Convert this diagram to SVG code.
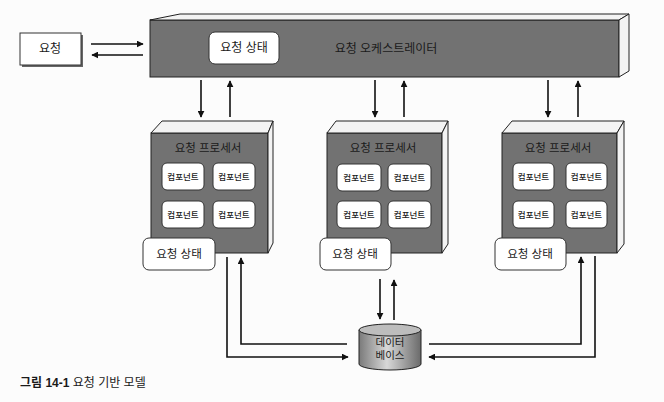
<svg xmlns="http://www.w3.org/2000/svg" width="664" height="402" viewBox="0 0 664 402">
<style>
text{font-family:"Liberation Sans","Noto Sans CJK KR",sans-serif;fill:#1a1a1a;text-anchor:middle;dominant-baseline:central}
.face{fill:#727272;stroke:#222;stroke-width:1}
.lite{fill:#f3f3f3;stroke:#222;stroke-width:1}
.box{fill:#fff;stroke:#333;stroke-width:1}
.comp{font-size:8.5px;font-weight:500}
.st{font-size:11.5px}
.ttl{font-size:11.5px}
.ln{fill:none;stroke:#111;stroke-width:1.6}
</style>
<defs>
<marker id="ah" viewBox="0 0 10 10" refX="9" refY="5" markerWidth="7" markerHeight="7" markerUnits="userSpaceOnUse" orient="auto">
<path d="M0,0 L10,5 L0,10 z" fill="#111"/>
</marker>
<linearGradient id="cyl" x1="0" y1="0" x2="1" y2="0">
<stop offset="0" stop-color="#7a7a7a"/>
<stop offset="0.45" stop-color="#d8d8d8"/>
<stop offset="1" stop-color="#6a6a6a"/>
</linearGradient>
</defs>
<rect width="664" height="402" fill="#fcfcfc"/>

<g id="request">
<rect x="22" y="35" width="61" height="32" fill="#666"/>
<rect x="20" y="33" width="61" height="32" class="box"/>
<text x="50" y="49" font-size="12">요청</text>
</g>

<g id="orchestrator">
<rect x="150" y="20" width="469" height="57" class="face"/>
<polygon points="150,20 180,14 629,14 619,20" class="lite"/>
<polygon points="619,20 629,14 629,71 619,77" class="lite"/>
<rect x="209" y="32" width="70" height="32" rx="6" class="box"/>
<text x="244" y="48" font-size="12">요청 상태</text>
<text x="386" y="49" font-size="12">요청 오케스트레이터</text>
</g>

<g id="processor1">
<rect x="151" y="133" width="117" height="120" class="face"/>
<polygon points="151,133 162,121 273,121 268,133" class="lite"/>
<polygon points="268,133 273,121 273,243 268,253" class="lite"/>
<text x="208" y="148" class="ttl">요청 프로세서</text>
<rect x="162" y="163" width="42" height="27" rx="5" class="box"/><text x="183" y="176.5" class="comp">컴포넌트</text>
<rect x="213" y="163" width="42" height="27" rx="5" class="box"/><text x="234" y="176.5" class="comp">컴포넌트</text>
<rect x="162" y="201" width="42" height="27" rx="5" class="box"/><text x="183" y="214.5" class="comp">컴포넌트</text>
<rect x="213" y="201" width="42" height="27" rx="5" class="box"/><text x="234" y="214.5" class="comp">컴포넌트</text>
<rect x="143" y="238" width="72" height="32" rx="6" class="box"/>
<text x="179" y="254" class="st">요청 상태</text>
</g>

<g id="processor2">
<rect x="327" y="133" width="115" height="120" class="face"/>
<polygon points="327,133 336,121 448,121 442,133" class="lite"/>
<polygon points="442,133 448,121 448,244 442,253" class="lite"/>
<text x="383" y="148" class="ttl">요청 프로세서</text>
<rect x="337" y="164" width="44" height="27" rx="5" class="box"/><text x="359" y="177.5" class="comp">컴포넌트</text>
<rect x="388" y="164" width="43" height="27" rx="5" class="box"/><text x="409.5" y="177.5" class="comp">컴포넌트</text>
<rect x="337" y="201" width="44" height="27" rx="5" class="box"/><text x="359" y="214.5" class="comp">컴포넌트</text>
<rect x="388" y="201" width="43" height="27" rx="5" class="box"/><text x="409.5" y="214.5" class="comp">컴포넌트</text>
<rect x="320" y="238" width="71" height="32" rx="6" class="box"/>
<text x="355" y="254" class="st">요청 상태</text>
</g>

<g id="processor3">
<rect x="502" y="133" width="115" height="120" class="face"/>
<polygon points="502,133 512,121 624,121 617,133" class="lite"/>
<polygon points="617,133 624,121 624,244 617,253" class="lite"/>
<text x="558" y="148" class="ttl">요청 프로세서</text>
<rect x="513" y="163" width="41" height="27" rx="5" class="box"/><text x="533.5" y="176.5" class="comp">컴포넌트</text>
<rect x="566" y="163" width="41" height="27" rx="5" class="box"/><text x="586.5" y="176.5" class="comp">컴포넌트</text>
<rect x="513" y="201" width="41" height="27" rx="5" class="box"/><text x="533.5" y="214.5" class="comp">컴포넌트</text>
<rect x="566" y="201" width="41" height="27" rx="5" class="box"/><text x="586.5" y="214.5" class="comp">컴포넌트</text>
<rect x="495" y="238" width="71" height="32" rx="6" class="box"/>
<text x="530" y="254" class="st">요청 상태</text>
</g>

<g id="database">
<path d="M359,330 L359,364 A31,6 0 0 0 421,364 L421,330 Z" fill="url(#cyl)" stroke="#222" stroke-width="1"/>
<ellipse cx="390" cy="330" rx="31" ry="6" fill="#bdbdbd" stroke="#222" stroke-width="1"/>
<text x="390" y="342" font-size="10.5">데이터</text>
<text x="390" y="355" font-size="10.5">베이스</text>
</g>

<g id="connectors">
<line x1="91" y1="44" x2="143" y2="44" class="ln" marker-end="url(#ah)"/>
<line x1="143" y1="55" x2="92" y2="55" class="ln" marker-end="url(#ah)"/>
<line x1="201" y1="80" x2="201" y2="117" class="ln" marker-end="url(#ah)"/>
<line x1="230" y1="117" x2="230" y2="81" class="ln" marker-end="url(#ah)"/>
<line x1="375" y1="80" x2="375" y2="117" class="ln" marker-end="url(#ah)"/>
<line x1="404" y1="117" x2="404" y2="81" class="ln" marker-end="url(#ah)"/>
<line x1="548" y1="80" x2="548" y2="117" class="ln" marker-end="url(#ah)"/>
<line x1="578" y1="117" x2="578" y2="81" class="ln" marker-end="url(#ah)"/>
<line x1="380" y1="279" x2="380" y2="319" class="ln" marker-end="url(#ah)"/>
<line x1="394" y1="320" x2="394" y2="280" class="ln" marker-end="url(#ah)"/>
<polyline points="227,257 227,357 348,357" class="ln" marker-end="url(#ah)"/>
<polyline points="347,344 241,344 241,258" class="ln" marker-end="url(#ah)"/>
<polyline points="429,344 581,344 581,257" class="ln" marker-end="url(#ah)"/>
<polyline points="595,256 595,357 429,357" class="ln" marker-end="url(#ah)"/>
</g>

<g id="caption">
<text x="20" y="383" font-size="12" style="text-anchor:start"><tspan font-weight="bold">그림 14-1</tspan> 요청 기반 모델</text>
</g>
</svg>
